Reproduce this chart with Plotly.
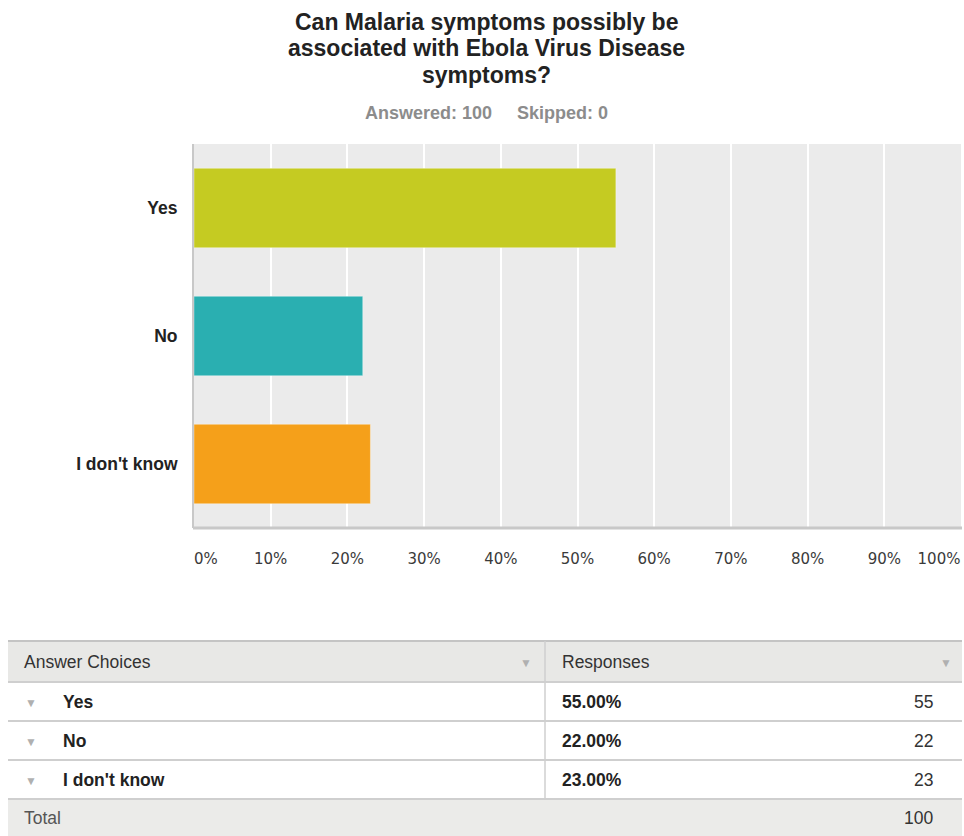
import plotly.graph_objects as go

W, H = 964, 836

# data
choices = ["Yes", "No", "I don't know"]
counts = [55, 22, 23]
answered = 100
skipped = 0
colors = ["#c5cb22", "#2aafb1", "#f5a01a"]
tick_vals = [0, 10, 20, 30, 40, 50, 60, 70, 80, 90]
end_tick = 100
title_lines = ["Can Malaria symptoms possibly be",
               "associated with Ebola Virus Disease",
               "symptoms?"]

total = sum(counts)
pcts = [c / answered * 100 for c in counts]


def px_x(x):
    return x / W


def px_y(y):
    return 1 - y / H


# first label sits inside the plot like the original (padded with nbsp)
tick_text = [f"{v}%" for v in tick_vals]
tick_text[0] = "&nbsp;" * 5 + tick_text[0]

x_dom = [px_x(194), px_x(961)]
tick_font = dict(size=15, color="#3a3a3a", family="DejaVu Sans, sans-serif")

fig = go.Figure()
fig.add_trace(go.Bar(
    x=pcts, y=choices, orientation="h",
    marker=dict(color=colors, line=dict(color="rgba(255,255,255,0.35)", width=1)),
    width=0.62, hoverinfo="x+y",
))
# empty trace so the overlay axis holding the 100% label gets drawn
fig.add_trace(go.Scatter(x=[end_tick], y=[choices[0]], xaxis="x2", mode="none",
                         hoverinfo="skip", showlegend=False))

fig.update_layout(
    width=W, height=H, autosize=False,
    margin=dict(l=0, r=0, t=0, b=0, pad=0),
    paper_bgcolor="white", plot_bgcolor="#ebebeb",
    showlegend=False,
    font=dict(family="Liberation Sans, Arial, sans-serif", color="#333333"),
    xaxis=dict(
        domain=x_dom, range=[0, 100],
        tickvals=tick_vals, ticktext=tick_text,
        showgrid=True, gridcolor="white", gridwidth=2,
        zeroline=False, showline=False, automargin=False,
        ticks="outside", ticklen=0, ticklabelstandoff=17,
        ticklabeloverflow="allow", tickfont=tick_font,
        fixedrange=True,
    ),
    xaxis2=dict(
        domain=x_dom, range=[0, 100], overlaying="x", anchor="y", side="bottom",
        tickvals=[end_tick], ticktext=[f"{end_tick}%"], ticklabelshift=-22,
        showgrid=False, zeroline=False, showline=False, automargin=False,
        ticks="outside", ticklen=0, ticklabelstandoff=17,
        ticklabeloverflow="allow", tickfont=tick_font,
        fixedrange=True,
    ),
    yaxis=dict(
        domain=[px_y(528), px_y(144)],
        categoryorder="array", categoryarray=choices[::-1],
        showgrid=False, zeroline=False, automargin=False,
        showline=True, linecolor="#c8c8c8", linewidth=2,
        ticks="outside", ticklen=0, ticklabelstandoff=11,
        tickfont=dict(size=17.5, color="#222222", family="Liberation Sans, Arial, sans-serif",
                      weight="bold"),
        fixedrange=True,
    ),
)

# bottom axis line
fig.add_shape(type="line", xref="paper", yref="paper",
              x0=px_x(193), x1=px_x(962), y0=px_y(528), y1=px_y(528),
              line=dict(color="#c8c8c8", width=3))

# title (one annotation per line to keep the tight line spacing) + subtitle
for line, ty in zip(title_lines, [22, 48.5, 75]):
    fig.add_annotation(text="<b>" + line + "</b>", xref="paper", yref="paper",
                       x=px_x(486), y=px_y(ty), xanchor="center", yanchor="middle",
                       showarrow=False, font=dict(size=23, color="#222222"))
fig.add_annotation(text=f"<b>Answered: {answered}&nbsp;&nbsp;&nbsp;&nbsp;&nbsp;Skipped: {skipped}</b>",
                   xref="paper", yref="paper", x=px_x(486), y=px_y(113),
                   xanchor="center", yanchor="middle", showarrow=False,
                   font=dict(size=18, color="#8c8c8c"))

# ---- table below the chart
tl, tr, tdiv = 8, 962, 545
rows_y = [641, 682, 721, 760, 799, 836]
line_col = "#cfcfcf"

# header and total fills
fig.add_shape(type="rect", xref="paper", yref="paper", layer="below",
              x0=px_x(tl), x1=px_x(tr), y0=px_y(rows_y[0]), y1=px_y(rows_y[1]),
              fillcolor="#e8e8e6", line=dict(width=0))
fig.add_shape(type="rect", xref="paper", yref="paper", layer="below",
              x0=px_x(tl), x1=px_x(tr), y0=px_y(rows_y[4]), y1=px_y(rows_y[5]),
              fillcolor="#ebebe9", line=dict(width=0))

for i, ry in enumerate(rows_y[:-1]):
    fig.add_shape(type="line", xref="paper", yref="paper",
                  x0=px_x(tl), x1=px_x(tr), y0=px_y(ry), y1=px_y(ry),
                  line=dict(color="#c4c4c4" if i == 0 else line_col, width=2))
fig.add_shape(type="line", xref="paper", yref="paper",
              x0=px_x(tdiv), x1=px_x(tdiv), y0=px_y(rows_y[0]), y1=px_y(rows_y[4]),
              line=dict(color=line_col, width=1.5))


def cell_text(txt, x, y, anchor="left", bold=False, color="#333333", size=17.5):
    fig.add_annotation(text=f"<b>{txt}</b>" if bold else txt,
                       xref="paper", yref="paper", x=px_x(x), y=px_y(y),
                       xanchor=anchor, yanchor="middle", showarrow=False,
                       borderpad=0, font=dict(size=size, color=color))


def mid(i):
    return (rows_y[i] + rows_y[i + 1]) / 2


cell_text("Answer Choices", 23, mid(0))
cell_text("Responses", 561, mid(0))
cell_text("▼", 526, mid(0) + 1, anchor="center", color="#b0b0b0", size=12)
cell_text("▼", 946, mid(0) + 1, anchor="center", color="#b0b0b0", size=12)

for i, (c, n, p) in enumerate(zip(choices, counts, pcts)):
    cy = mid(i + 1)
    cell_text("▼", 31, cy + 1, anchor="center", color="#b0b0b0", size=12)
    cell_text(c, 62, cy, bold=True, color="#222222")
    cell_text(f"{p:.2f}%", 561, cy, bold=True, color="#222222")
    cell_text(str(n), 934, cy, anchor="right")

cell_text("Total", 23, mid(4), color="#555555")
cell_text(str(total), 934, mid(4), anchor="right")

# drop the default page margin so the figure sits at the window origin
fig.write_html("out.html", config={"displayModeBar": False},
               post_script="document.body.style.margin='0';document.body.style.overflow='hidden';")
